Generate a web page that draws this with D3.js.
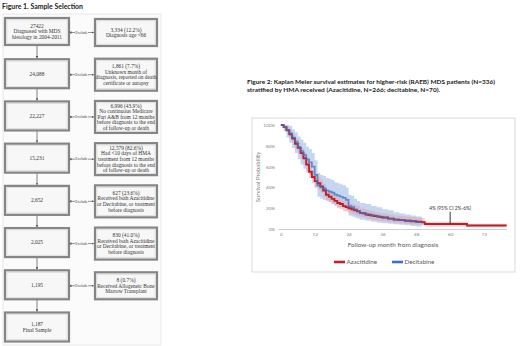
<!DOCTYPE html>
<html>
<head>
<meta charset="utf-8">
<script src="https://cdn.jsdelivr.net/npm/d3@7"></script>
<style>
  body { margin: 0; background: #fff; }
  svg { display: block; }
</style>
</head>
<body>
<div id="chart"></div>
<script>
// Figure 1 – sample selection flow
const mainCounts = ["27422", "24,088", "22,227", "15,231", "2,652", "2,025", "1,195", "1,187"];
const mainNotes = [["Diagnosed with MDS", "histology in 2004-2011"], [], [], [], [], [], [], ["Final Sample"]];
const excludeText = [
  ["3,334 (12.2%)", "Diagnosis age <66"],
  ["1,861 (7.7%)", "Unknown month of", "diagnosis, reported on death", "certificate or autopsy"],
  ["6,996 (43.9%)", "No continuous Medicare", "Part A&B from 12 months", "before diagnosis to the end", "of follow-up or death"],
  ["12,579 (82.6%)", "Had <10 days of HMA", "treatment from 12 months", "before diagnosis to the end", "of follow-up or death"],
  ["627 (23.6%)", "Received both Azacitidine", "or Decitabine, or treatment", "before diagnosis"],
  ["830 (41.0%)", "Received both Azacitidine", "or Decitabine, or treatment", "before diagnosis"],
  ["8 (0.7%)", "Received Allogeneic Bone", "Marrow Transplant"]
];

// Figure 2 – Kaplan Meier curves (months, survival, 95% CI)
const azaMonths = [0,1,2,3,4,5,6,7,8,9, 10,11,12,13,14,15,16,17,18,19, 20,21,22,23,24,25,26,27,28,29, 30,31,32,33,34,35,36, 38,40,42,44,46,48,50, 51,66,80];
const azaSurv   = [1,.98,.95,.91,.87,.82,.78,.73,.68,.62, .55,.50,.46,.44,.41,.37,.33,.31,.29,.27, .25,.24,.22,.21,.20,.19,.18,.17,.155,.15, .14,.135,.13,.125,.12,.115,.11, .10,.09,.085,.08,.075,.07,.065, .048,.033,.033];
const azaLo     = [1,.96,.92,.87,.83,.77,.73,.68,.62,.56, .49,.44,.40,.38,.35,.31,.28,.26,.24,.22, .20,.19,.17,.165,.155,.145,.135,.125,.115,.11, .10,.095,.09,.085,.08,.078,.072, .065,.057,.052,.048,.044,.04,.036, .025,.018,.018];
const azaHi     = [1,1,.98,.95,.91,.87,.83,.78,.74,.68, .61,.56,.52,.50,.47,.43,.38,.36,.34,.32, .30,.29,.27,.26,.25,.24,.23,.22,.20,.195, .185,.18,.175,.165,.16,.155,.15, .14,.13,.125,.12,.115,.11,.105, .07,.05,.05];

const decMonths = [0,1,2,3,4,5,6,7,8,9, 10,11,12,13,14,15,16,17,18,19, 20,21,22,23,24,25,26,27,28,30, 32,34,36,38,40,42,44,46,48,50];
const decSurv   = [1,.98,.95,.92,.88,.84,.79,.75,.71,.67, .64,.60,.52,.42,.40,.39,.37,.36,.35,.33, .32,.31,.30,.28,.22,.21,.19,.17,.155,.14, .13,.12,.11,.10,.09,.085,.08,.075,.065,.06];
const decLo     = [1,.94,.88,.83,.78,.73,.67,.62,.58,.54, .52,.48,.40,.31,.29,.28,.27,.26,.24,.23, .21,.21,.20,.18,.13,.12,.11,.10,.09,.08, .07,.06,.055,.05,.045,.04,.035,.03,.025,.025];
const decHi     = [1,1,1,.99,.96,.93,.89,.86,.83,.79, .77,.73,.66,.54,.52,.51,.49,.48,.47,.45, .44,.43,.42,.40,.33,.32,.29,.27,.25,.24, .22,.21,.19,.18,.16,.15,.14,.13,.12,.11];

const xTicks = [0, 12, 24, 36, 48, 60, 72];
const yTicks = [0, .2, .4, .6, .8, 1];
const seriesNames = ["Azacitidine", "Decitabine"];
const annotMonth = 60, annotText = "4% (95% CI 2%-6%)";

/* ---------- helpers ---------- */
const pct = d3.format(".0%");
const toRows = (m, s, lo, hi) => m.map((t, i) => ({ t, s: s[i], lo: lo[i], hi: hi[i] }));

const W = 520, H = 346;
const svg = d3.select("#chart").append("svg").attr("width", W).attr("height", H);

/* ---------- Figure 1 ---------- */
svg.append("text").attr("x", 2).attr("y", 9)
  .attr("font-family", "Lato, sans-serif").attr("font-weight", 700).attr("font-size", 7)
  .attr("fill", "#222").attr("textLength", 81).attr("lengthAdjust", "spacingAndGlyphs")
  .text("Figure 1. Sample Selection");

svg.append("rect").attr("x", 3).attr("y", 14).attr("width", 158).attr("height", 331)
  .attr("fill", "#fbfbfb").attr("stroke", "#e8e8e8");

const row = d3.scaleLinear().domain([0, 7]).range([31.5, 327]);
const leftX = 5, leftW = 64, rightX = 95, rightW = 62;
const lineH = 5.6;
const serif = "'Liberation Serif', 'DejaVu Serif', serif";

function box(g, x, cy, w, h, lines) {
  g.append("rect").attr("x", x).attr("y", cy - h / 2).attr("width", w).attr("height", h)
    .attr("fill", "#f7f7f7").attr("stroke", "#858585").attr("stroke-width", 2.2);
  g.append("rect").attr("x", x + 1.9).attr("y", cy - h / 2 + 1.9).attr("width", w - 3.8).attr("height", h - 3.8)
    .attr("fill", "none").attr("stroke", "#c8c8c8").attr("stroke-width", 0.5);
  const t0 = cy - (lines.length - 1) * lineH / 2 + 1.8;
  g.selectAll(null).data(lines).join("text")
    .attr("x", x + w / 2).attr("y", (d, i) => t0 + i * lineH)
    .attr("text-anchor", "middle").attr("font-family", serif).attr("font-size", 5.4)
    .attr("fill", "#333").text(d => d);
}

const flow = svg.append("g");
const arrowDefs = svg.append("defs");
arrowDefs.append("marker").attr("id", "ah").attr("viewBox", "0 0 6 6").attr("refX", 5.5).attr("refY", 3)
  .attr("markerWidth", 3).attr("markerHeight", 3).attr("orient", "auto")
  .append("path").attr("d", "M0,0L6,3L0,6Z").attr("fill", "#555");

const leftH = i => (i === 0 ? 27 : 29);
const rightH = i => (excludeText[i].length <= 3 ? 27 : 32);

// vertical arrows
mainCounts.slice(1).forEach((_, i) => {
  flow.append("line").attr("x1", leftX + leftW / 2).attr("x2", leftX + leftW / 2)
    .attr("y1", row(i) + leftH(i) / 2).attr("y2", row(i + 1) - leftH(i + 1) / 2 - 1)
    .attr("stroke", "#666").attr("stroke-width", 0.8).attr("marker-end", "url(#ah)");
});

// exclusion arrows
excludeText.forEach((_, i) => {
  const y = row(i) + 1;
  flow.append("line").attr("x1", leftX + leftW + 1).attr("x2", rightX - 1.2).attr("y1", y).attr("y2", y)
    .attr("stroke", "#666").attr("stroke-width", 0.7).attr("marker-end", "url(#ah)");
  flow.append("rect").attr("x", leftX + leftW + 0.5).attr("y", y - 1).attr("width", 2).attr("height", 2).attr("fill", "#555");
  flow.append("rect").attr("x", 75).attr("y", y - 2.2).attr("width", 13).attr("height", 4.4).attr("fill", "#fbfbfb");
  flow.append("text").attr("x", 81.5).attr("y", y + 1.3).attr("text-anchor", "middle")
    .attr("font-family", serif).attr("font-size", 3.8).attr("fill", "#444").text("Exclude");
});

mainCounts.forEach((c, i) => box(flow, leftX, row(i), leftW, leftH(i), [c, ...mainNotes[i]]));
excludeText.forEach((lines, i) => box(flow, rightX, row(i) + 1, rightW, rightH(i), lines));

/* ---------- Figure 2 ---------- */
const sans = "Lato, 'Open Sans', sans-serif";
const title2 = [
  "Figure 2: Kaplan Meier survival estimates for higher-risk (RAEB) MDS patients (N=336)",
  "stratified by HMA received (Azacitidine, N=266; decitabine, N=70)."
];
svg.selectAll(null).data(title2).join("text")
  .attr("x", 247).attr("y", (d, i) => 83.5 + i * 8)
  .attr("font-family", sans).attr("font-weight", 700).attr("font-size", 6.2).attr("fill", "#222")
  .attr("textLength", (d, i) => (i === 0 ? 248 : 193)).attr("lengthAdjust", "spacingAndGlyphs")
  .text(d => d);

svg.append("rect").attr("x", 252).attr("y", 118).attr("width", 263).attr("height", 154)
  .attr("fill", "#fff").attr("stroke", "#d9d9d9").attr("stroke-width", 1);

const x = d3.scaleLinear().domain([-1, 80]).range([278, 506.6]);
const y = d3.scaleLinear().domain([0, 1]).range([229, 125]);

const aza = toRows(azaMonths, azaSurv, azaLo, azaHi);
const dec = toRows(decMonths, decSurv, decLo, decHi);

const band = d3.area().curve(d3.curveStepAfter).x(d => x(d.t)).y0(d => y(d.lo)).y1(d => y(d.hi));
const line = d3.line().curve(d3.curveStepAfter).x(d => x(d.t)).y(d => y(d.s));

const plot = svg.append("g");
plot.append("path").datum(dec).attr("d", band).attr("fill", "#9fbde6").attr("fill-opacity", 0.6);
plot.append("path").datum(aza).attr("d", band).attr("fill", "#e79aa5").attr("fill-opacity", 0.45);

// baseline axis
svg.append("g").attr("transform", `translate(0,${y(0)})`)
  .call(d3.axisBottom(x).tickValues(xTicks).tickSize(0).tickPadding(4))
  .call(g => g.select(".domain").attr("stroke", "#d0d0d0"))
  .call(g => g.selectAll("text").attr("font-family", sans).attr("font-size", 4.6).attr("fill", "#7f7f7f"));

svg.append("g").attr("transform", `translate(${x(-1) - 1},0)`)
  .call(d3.axisLeft(y).tickValues(yTicks).tickSize(0).tickPadding(2).tickFormat(pct))
  .call(g => g.select(".domain").remove())
  .call(g => g.selectAll("text").attr("font-family", sans).attr("font-size", 4.6).attr("fill", "#7f7f7f"));

plot.append("path").datum(aza).attr("d", line).attr("fill", "none")
  .attr("stroke", "#bb2228").attr("stroke-width", 1.9);
plot.append("path").datum(dec).attr("d", line).attr("fill", "none")
  .attr("stroke", "#3e6fc0").attr("stroke-width", 1.7).attr("stroke-opacity", 0.75);

// annotation
svg.append("text").attr("x", x(annotMonth)).attr("y", 210)
  .attr("text-anchor", "middle").attr("font-family", sans).attr("font-size", 4.8).attr("fill", "#333")
  .text(annotText);
svg.append("line").attr("x1", x(annotMonth)).attr("x2", x(annotMonth))
  .attr("y1", y(0.165)).attr("y2", y(0.052)).attr("stroke", "#222").attr("stroke-width", 0.9);

// axis titles
svg.append("text").attr("x", 393).attr("y", 246.5).attr("text-anchor", "middle")
  .attr("font-family", sans).attr("font-size", 6.4).attr("fill", "#595959")
  .text("Follow-up month from diagnosis");
svg.append("text").attr("transform", "translate(260,177) rotate(-90)").attr("text-anchor", "middle")
  .attr("font-family", sans).attr("font-size", 6).attr("fill", "#7f7f7f")
  .text("Survival Probability");

// legend
const legColor = d3.scaleOrdinal().domain(seriesNames).range(["#bb2228", "#3e6fc0"]);
const legX = d3.scaleOrdinal().domain(seriesNames).range([334, 392]);
const leg = svg.append("g").selectAll("g").data(seriesNames).join("g")
  .attr("transform", d => `translate(${legX(d)},262)`);
leg.append("line").attr("x1", 0).attr("x2", 11).attr("stroke", d => legColor(d)).attr("stroke-width", 2.6);
leg.append("text").attr("x", 12.5).attr("y", 2.2).attr("font-family", sans).attr("font-size", 6.3)
  .attr("fill", "#595959").text(d => d);
</script>
</body>
</html>
